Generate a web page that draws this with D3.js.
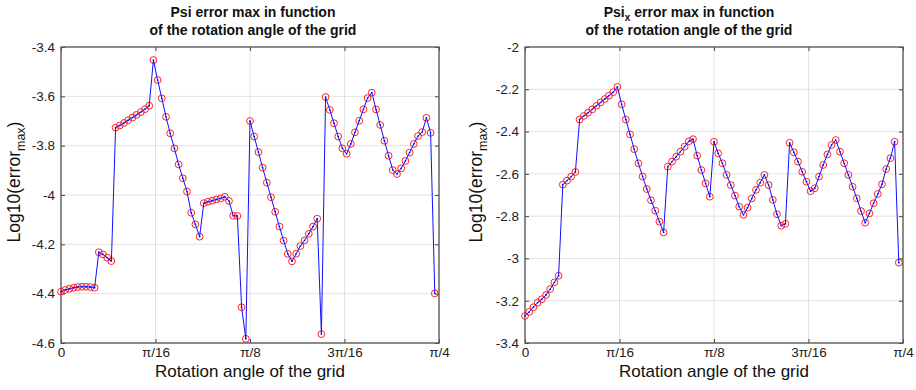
<html>
<head>
<meta charset="utf-8">
<style>
  body { margin: 0; background: #fff; font-family: Arial, "Liberation Sans", sans-serif; }
  svg { display: block; }
</style>
<script src="https://cdnjs.cloudflare.com/ajax/libs/d3/7.8.5/d3.min.js"></script>
</head>
<body>
<svg id="main"></svg>
<script>
// rotation angle of the grid, degrees (step 0.5)
const angles = [0, 0.5, 1, 1.5, 2, 2.5, 3, 3.5, 4, 4.5, 5, 5.5, 6, 6.5, 7, 7.5, 8, 8.5, 9, 9.5,
  10, 10.5, 11, 11.5, 12, 12.5, 13, 13.5, 14, 14.5, 15, 15.5, 16, 16.5, 17, 17.5, 18, 18.5, 19, 19.5,
  20, 20.5, 21, 21.5, 22, 22.5, 23, 23.5, 24, 24.5, 25, 25.5, 26, 26.5, 27, 27.5, 28, 28.5, 29, 29.5,
  30, 30.5, 31, 31.5, 32, 32.5, 33, 33.5, 34, 34.5, 35, 35.5, 36, 36.5, 37, 37.5, 38, 38.5, 39, 39.5,
  40, 40.5, 41, 41.5, 42, 42.5, 43, 43.5, 44, 44.5]

// log10 of the max error, Psi
const psiErr = [-4.392, -4.385, -4.380, -4.376, -4.373, -4.372, -4.372, -4.373, -4.376, -4.232,
  -4.241, -4.254, -4.268, -3.727, -3.718, -3.708, -3.697, -3.686, -3.675, -3.664,
  -3.652, -3.638, -3.453, -3.534, -3.608, -3.683, -3.750, -3.811, -3.876, -3.932,
  -3.986, -4.072, -4.119, -4.169, -4.033, -4.027, -4.023, -4.018, -4.014, -4.007,
  -4.024, -4.084, -4.085, -4.455, -4.583, -3.700, -3.763, -3.826, -3.889, -3.950,
  -4.009, -4.068, -4.128, -4.185, -4.239, -4.269, -4.238, -4.207, -4.184, -4.157,
  -4.128, -4.096, -4.564, -3.603, -3.655, -3.709, -3.763, -3.811, -3.833, -3.793,
  -3.746, -3.699, -3.653, -3.607, -3.585, -3.653, -3.716, -3.780, -3.841, -3.899,
  -3.915, -3.892, -3.862, -3.828, -3.793, -3.761, -3.745, -3.687, -3.748, -4.399]

// log10 of the max error, Psi_x
const psiXErr = [-3.272, -3.253, -3.231, -3.209, -3.193, -3.173, -3.145, -3.113, -3.082, -2.651,
  -2.632, -2.613, -2.591, -2.343, -2.326, -2.311, -2.295, -2.278, -2.262, -2.246,
  -2.230, -2.214, -2.189, -2.271, -2.343, -2.413, -2.483, -2.550, -2.613, -2.672,
  -2.725, -2.774, -2.826, -2.877, -2.566, -2.542, -2.519, -2.495, -2.471, -2.446,
  -2.436, -2.514, -2.582, -2.645, -2.708, -2.448, -2.503, -2.550, -2.605, -2.653,
  -2.703, -2.755, -2.794, -2.760, -2.716, -2.676, -2.642, -2.605, -2.653, -2.723,
  -2.791, -2.845, -2.836, -2.453, -2.498, -2.542, -2.590, -2.637, -2.682, -2.668,
  -2.613, -2.558, -2.508, -2.463, -2.440, -2.495, -2.550, -2.605, -2.661, -2.716,
  -2.776, -2.831, -2.787, -2.739, -2.695, -2.649, -2.577, -2.526, -2.448, -3.020]

const xTickVals = [0, 11.25, 22.5, 33.75, 45]
const xTickLabels = ["0", "\u03c0/16", "\u03c0/8", "3\u03c0/16", "\u03c0/4"]
const yTicksLeft = [-3.4, -3.6, -3.8, -4, -4.2, -4.4, -4.6]
const yTicksRight = [-2, -2.2, -2.4, -2.6, -2.8, -3, -3.2, -3.4]

const width = 916
const height = 390

const svg = d3.select("#main")
  .attr("width", width)
  .attr("height", height)

svg.append("rect").attr("width", width).attr("height", height).attr("fill", "#fff")

function drawPanel(p) {
  const x = d3.scaleLinear().domain([0, 45]).range([p.left, p.right])
  const y = d3.scaleLinear().domain(p.yDomain).range([p.bottom, p.top])
  const g = svg.append("g")

  // grid
  g.append("g").selectAll("line")
    .data(xTickVals.slice(1, -1))
    .join("line")
    .attr("x1", d => x(d)).attr("x2", d => x(d))
    .attr("y1", p.top).attr("y2", p.bottom)
    .attr("stroke", "#e2e2e2")
  g.append("g").selectAll("line")
    .data(p.yTicks.slice(1, -1))
    .join("line")
    .attr("x1", p.left).attr("x2", p.right)
    .attr("y1", d => y(d)).attr("y2", d => y(d))
    .attr("stroke", "#e2e2e2")

  // axes with inner ticks on both sides (plain hyphen minus like the original)
  const fmt = d => d3.format("~g")(d).replace("\u2212", "-")
  const axL = g.append("g").attr("transform", `translate(${p.left},0)`)
    .call(d3.axisLeft(y).tickValues(p.yTicks).tickSizeInner(-4).tickSizeOuter(0).tickPadding(6).tickFormat(fmt))
  const axR = g.append("g").attr("transform", `translate(${p.right},0)`)
    .call(d3.axisRight(y).tickValues(p.yTicks).tickSizeInner(-4).tickSizeOuter(0).tickFormat(""))
  const axB = g.append("g").attr("transform", `translate(0,${p.bottom})`)
    .call(d3.axisBottom(x).tickValues(xTickVals).tickSizeInner(-4).tickSizeOuter(0).tickPadding(4)
      .tickFormat((d, i) => xTickLabels[i]))
  const axT = g.append("g").attr("transform", `translate(0,${p.top})`)
    .call(d3.axisTop(x).tickValues(xTickVals).tickSizeInner(-4).tickSizeOuter(0).tickFormat(""))

  for (const ax of [axL, axR, axB, axT]) {
    ax.select(".domain").remove()
    ax.selectAll(".tick line").attr("stroke", "#444")
    ax.selectAll("text").attr("font-size", 13.5).attr("fill", "#222")
      .attr("font-family", "Arial, 'Liberation Sans', sans-serif")
  }

  g.append("rect")
    .attr("x", p.left).attr("y", p.top)
    .attr("width", p.right - p.left).attr("height", p.bottom - p.top)
    .attr("fill", "none").attr("stroke", "#5a5a5a").attr("stroke-width", 1.4)

  const pts = angles.map((a, i) => [a, p.values[i]])

  // red circle markers
  g.append("g").selectAll("circle")
    .data(pts)
    .join("circle")
    .attr("cx", d => x(d[0])).attr("cy", d => y(d[1]))
    .attr("r", 3.4)
    .attr("fill", "none").attr("stroke", "#ff2020").attr("stroke-width", 1)

  // blue line with dots
  const line = d3.line().x(d => x(d[0])).y(d => y(d[1]))
  g.append("path").datum(pts)
    .attr("d", line)
    .attr("fill", "none").attr("stroke", "#1010ff").attr("stroke-width", 1)
  g.append("g").selectAll("circle")
    .data(pts)
    .join("circle")
    .attr("cx", d => x(d[0])).attr("cy", d => y(d[1]))
    .attr("r", 0.9).attr("fill", "#1010ff")

  // title
  const t1 = g.append("text")
    .attr("x", p.titleX).attr("y", 17)
    .attr("text-anchor", "middle")
    .attr("font-size", 14).attr("font-weight", "bold").attr("fill", "#111")
  t1.append("tspan").text("Psi")
  if (p.sub) {
    t1.append("tspan").attr("font-size", 10).attr("dy", 4).text(p.sub)
    t1.append("tspan").attr("dy", -4).text(" error max in function")
  } else {
    t1.append("tspan").text(" error max in function")
  }
  g.append("text")
    .attr("x", p.titleX).attr("y", 35)
    .attr("text-anchor", "middle")
    .attr("font-size", 14).attr("font-weight", "bold").attr("fill", "#111")
    .text("of the rotation angle of the grid")

  // axis labels
  g.append("text")
    .attr("x", (p.left + p.right) / 2).attr("y", 377)
    .attr("text-anchor", "middle")
    .attr("font-size", 17).attr("fill", "#111")
    .text("Rotation angle of the grid")

  const yl = g.append("text")
    .attr("transform", `translate(${p.ylabX},182) rotate(-90)`)
    .attr("text-anchor", "middle")
    .attr("font-size", 17.5).attr("fill", "#111")
  yl.append("tspan").text("Log10(error")
  yl.append("tspan").attr("font-size", 12.5).attr("dy", 5).text("max")
  yl.append("tspan").attr("dy", -5).text(")")
}

drawPanel({left: 61, right: 439, top: 47, bottom: 343, yDomain: [-4.6, -3.4], yTicks: yTicksLeft,
  values: psiErr, titleX: 253, ylabX: 20, sub: null})
drawPanel({left: 525, right: 903, top: 47, bottom: 343, yDomain: [-3.4, -2], yTicks: yTicksRight,
  values: psiXErr, titleX: 689, ylabX: 482, sub: "x"})
</script>
</body>
</html>
